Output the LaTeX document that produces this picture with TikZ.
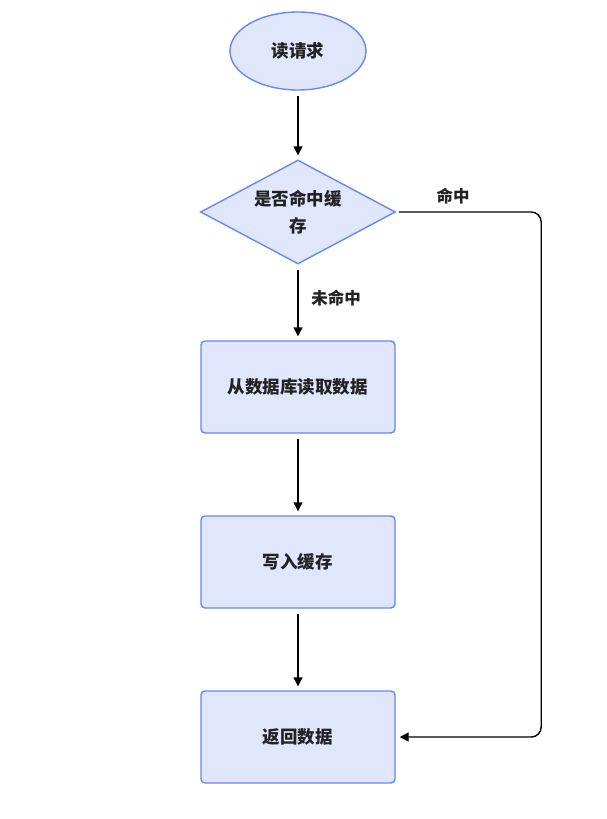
\documentclass[tikz,border=0pt]{standalone}
\usepackage{fontspec}
\setmainfont{Noto Sans CJK SC}
\usepackage{tikz}
\usetikzlibrary{arrows.meta,shapes.geometric}

\definecolor{boxfill}{RGB}{224,231,252}
\definecolor{boxline}{RGB}{104,134,247}
\definecolor{txt}{RGB}{34,34,34}

\begin{document}
\begin{tikzpicture}[x=1pt,y=1pt,>={Triangle[length=9pt,width=9pt]},node distance=175pt,
  every node/.style={font=\fontsize{17.5}{27}\selectfont\bfseries,text=txt},
  base/.style={draw=boxline,fill=boxfill,line width=1.4pt},
  terminal/.style={base,ellipse,minimum width=136pt,minimum height=78pt,inner sep=0pt},
  decision/.style={base,diamond,minimum width=195pt,minimum height=104pt,inner sep=0pt,aspect=1.875,align=center},
  process/.style={base,rectangle,rounded corners=4pt,minimum width=194pt,minimum height=92pt},
  flow/.style={->,line width=1.4pt,shorten <=5pt,shorten >=4pt},
  lbl/.style={font=\fontsize{16.5}{18}\selectfont\bfseries}]

  \useasboundingbox (-298,51) rectangle (308,-768);

  \node[terminal] (req) {读请求};
  \node[decision] (hit) [below of=req, node distance=161pt] {是否命中缓\\存};
  \node[process] (db) [below of=hit] {从数据库读取数据};
  \node[process] (write) [below of=db] {写入缓存};
  \node[process] (ret) [below of=write] {返回数据};

  \path[flow] (req) edge (hit);
  \path[flow] (hit) edge (db);
  \path[flow] (db) edge (write);
  \path[flow] (write) edge (ret);
  \draw[flow,rounded corners=10pt,shorten <=3pt] (hit.east) -- ++(145,0) |- (ret.east);

  \node[lbl] (nohit) at ([xshift=38pt,yshift=-33pt]hit.south) {未命中};
  \node[lbl] (yes) at ([xshift=57pt,yshift=16pt]hit.east) {命中};

\end{tikzpicture}
\end{document}
